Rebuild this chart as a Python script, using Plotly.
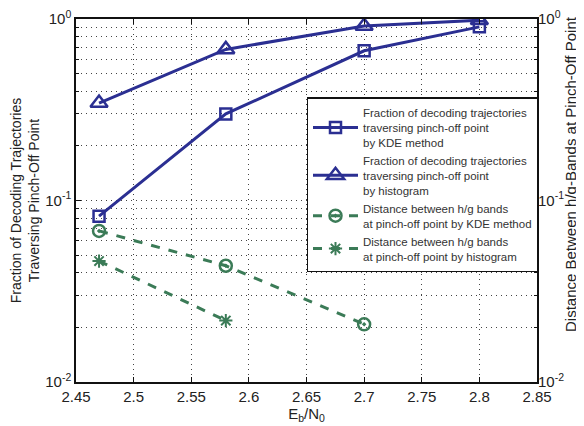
import plotly.graph_objects as go

x_frac = [2.47, 2.58, 2.70, 2.80]
kde_frac = [0.082, 0.30, 0.668, 0.905]
hist_frac = [0.344, 0.68, 0.915, 0.985]
x_kde_dist = [2.47, 2.58, 2.70]
kde_dist = [0.068, 0.0437, 0.0208]
x_hist_dist = [2.47, 2.58]
hist_dist = [0.0464, 0.0218]

x_ticks = [2.45, 2.5, 2.55, 2.6, 2.65, 2.7, 2.75, 2.8, 2.85]
x_ticktext = ["2.45", "2.5", "2.55", "2.6", "2.65", "2.7", "2.75", "2.8", "2.85"]
y_ticks = [0.01, 0.1, 1]
y_ticktext = ["10<sup>-2</sup>", "10<sup>-1</sup>", "10<sup>0</sup>"]
minor_vals = [k * d for d in (0.01, 0.1) for k in range(2, 10)]

blue = "#2B2F92"
green = "#3B7B57"
font = "Liberation Sans, Arial, sans-serif"
gdash = "1px,4px"
gcol = "#444"
tick_font = dict(size=15, color="#222", family=font)

fig = go.Figure()
fig.add_trace(go.Scatter(
    x=x_frac, y=kde_frac, mode="lines+markers",
    name="Fraction of decoding trajectories<br>traversing pinch-off point<br>by KDE method",
    line=dict(color=blue, width=3),
    marker=dict(symbol="square-open", size=11, color=blue, line=dict(width=2.5, color=blue))))
fig.add_trace(go.Scatter(
    x=x_frac, y=hist_frac, mode="lines+markers",
    name="Fraction of decoding trajectories<br>traversing pinch-off point<br>by histogram",
    line=dict(color=blue, width=3),
    marker=dict(symbol="triangle-up-open", size=15, color=blue, line=dict(width=2.5, color=blue))))
fig.add_trace(go.Scatter(
    x=x_kde_dist, y=kde_dist, mode="lines+markers",
    name="Distance between h/g bands<br>at pinch-off point by KDE method",
    line=dict(color=green, width=3, dash="dash"),
    marker=dict(symbol="circle-open-dot", size=12, color=green, line=dict(width=2.5, color=green))))
fig.add_trace(go.Scatter(
    x=x_hist_dist, y=hist_dist, mode="lines+markers",
    name="Distance between h/g bands<br>at pinch-off point by histogram",
    line=dict(color=green, width=3, dash="dash"),
    marker=dict(symbol="asterisk-open", size=11, color=green, line=dict(width=2, color=green))))
# invisible trace for right axis
fig.add_trace(go.Scatter(x=[x_ticks[0]], y=[y_ticks[0]], yaxis="y2", mode="markers",
                         marker=dict(opacity=0), showlegend=False, hoverinfo="skip"))

fig.update_layout(
    width=576, height=418,
    margin=dict(l=68, r=47, t=11, b=44),
    paper_bgcolor="white", plot_bgcolor="white",
    font=dict(family=font, size=15, color="#222"),
    showlegend=True,
    legend=dict(x=0.5, y=0.785, xanchor="left", yanchor="top",
                bgcolor="white", bordercolor="#111", borderwidth=1.5,
                font=dict(size=11.5, family=font, color="#333"),
                itemwidth=45, tracegroupgap=3),
    xaxis=dict(range=[2.45, 2.85], tickvals=x_ticks, ticktext=x_ticktext,
               tickfont=tick_font, ticklabeloverflow="allow",
               showgrid=True, gridcolor=gcol, griddash=gdash, gridwidth=1,
               showline=True, linecolor="#111", linewidth=1.5, mirror="ticks",
               ticks="inside", ticklen=5, tickcolor="#111", zeroline=False,
               automargin=False,
               title=dict(text="E<sub>b</sub>/N<sub>0</sub>", standoff=0, font=dict(size=15))),
    yaxis=dict(type="log", range=[-2, 0], tickvals=y_ticks, ticktext=y_ticktext,
               tickfont=tick_font, ticklabeloverflow="allow",
               showgrid=True, gridcolor=gcol, griddash=gdash, gridwidth=1,
               showline=True, linecolor="#111", linewidth=1.5, mirror=True,
               ticks="inside", ticklen=5, tickcolor="#111", zeroline=False,
               automargin=False,
               minor=dict(tickvals=minor_vals, showgrid=True, gridcolor=gcol,
                          griddash=gdash, ticks="inside", ticklen=3, tickcolor="#111"),
               title=dict(text="Fraction of Decoding Trajectories<br>Traversing Pinch-Off Point",
                          standoff=4, font=dict(size=14))),
    yaxis2=dict(type="log", range=[-2, 0], overlaying="y", side="right",
                tickvals=y_ticks, ticktext=y_ticktext, tickfont=tick_font,
                ticklabeloverflow="allow", showgrid=False,
                ticks="inside", ticklen=5, tickcolor="#111", zeroline=False,
                automargin=False,
                minor=dict(tickvals=minor_vals, ticks="inside", ticklen=3, tickcolor="#111")),
    annotations=[dict(text="Distance Between h/g-Bands at Pinch-Off Point",
                      xref="paper", yref="paper", x=1, y=0.573, xshift=33,
                      xanchor="center", yanchor="middle", textangle=-90,
                      showarrow=False, font=dict(size=15, family=font, color="#222"))],
)

fig.write_html("out.html")
